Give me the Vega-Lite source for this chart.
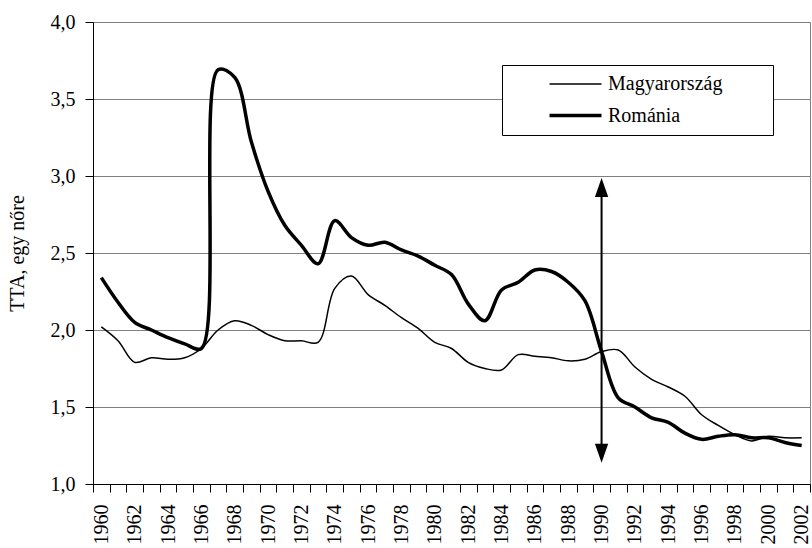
{
  "$schema": "https://vega.github.io/schema/vega-lite/v6.json",
  "width": 717,
  "height": 462,
  "autosize": {"type": "none"},
  "padding": {"left": 93, "top": 22, "right": 2, "bottom": 64},
  "background": "white",
  "config": {
    "font": "Liberation Serif",
    "view": {"stroke": "#808080", "strokeWidth": 1},
    "axis": {"labelColor": "black", "titleColor": "black", "domainColor": "black", "tickColor": "black", "labelFontSize": 20, "titleFontSize": 20, "titleFontWeight": "normal"}
  },
  "resolve": {"axis": {"x": "independent"}},
  "datasets": {
    "tfr": [
      {"year": 1960, "Magyarország": 2.02, "Románia": 2.34},
      {"year": 1961, "Magyarország": 1.93, "Románia": 2.18},
      {"year": 1962, "Magyarország": 1.79, "Románia": 2.05},
      {"year": 1963, "Magyarország": 1.82, "Románia": 2.00},
      {"year": 1964, "Magyarország": 1.81, "Románia": 1.95},
      {"year": 1965, "Magyarország": 1.82, "Románia": 1.91},
      {"year": 1966, "Magyarország": 1.88, "Románia": 1.88},
      {"year": 1967, "Magyarország": 2.00, "Románia": 3.69},
      {"year": 1968, "Magyarország": 2.06, "Románia": 3.64},
      {"year": 1969, "Magyarország": 2.03, "Románia": 3.22},
      {"year": 1970, "Magyarország": 1.97, "Románia": 2.90},
      {"year": 1971, "Magyarország": 1.93, "Románia": 2.68},
      {"year": 1972, "Magyarország": 1.93, "Románia": 2.55},
      {"year": 1973, "Magyarország": 1.92, "Románia": 2.43},
      {"year": 1974, "Magyarország": 2.27, "Románia": 2.71},
      {"year": 1975, "Magyarország": 2.35, "Románia": 2.60},
      {"year": 1976, "Magyarország": 2.23, "Románia": 2.55},
      {"year": 1977, "Magyarország": 2.16, "Románia": 2.57},
      {"year": 1978, "Magyarország": 2.08, "Románia": 2.52},
      {"year": 1979, "Magyarország": 2.01, "Románia": 2.48},
      {"year": 1980, "Magyarország": 1.92, "Románia": 2.42},
      {"year": 1981, "Magyarország": 1.88, "Románia": 2.36},
      {"year": 1982, "Magyarország": 1.79, "Románia": 2.17},
      {"year": 1983, "Magyarország": 1.75, "Románia": 2.06},
      {"year": 1984, "Magyarország": 1.74, "Románia": 2.26},
      {"year": 1985, "Magyarország": 1.84, "Románia": 2.31},
      {"year": 1986, "Magyarország": 1.83, "Románia": 2.39},
      {"year": 1987, "Magyarország": 1.82, "Románia": 2.38},
      {"year": 1988, "Magyarország": 1.80, "Románia": 2.31},
      {"year": 1989, "Magyarország": 1.81, "Románia": 2.19},
      {"year": 1990, "Magyarország": 1.86, "Románia": 1.86},
      {"year": 1991, "Magyarország": 1.87, "Románia": 1.56},
      {"year": 1992, "Magyarország": 1.76, "Románia": 1.50},
      {"year": 1993, "Magyarország": 1.68, "Románia": 1.43},
      {"year": 1994, "Magyarország": 1.63, "Románia": 1.40},
      {"year": 1995, "Magyarország": 1.57, "Románia": 1.33},
      {"year": 1996, "Magyarország": 1.45, "Románia": 1.29},
      {"year": 1997, "Magyarország": 1.38, "Románia": 1.31},
      {"year": 1998, "Magyarország": 1.32, "Románia": 1.32},
      {"year": 1999, "Magyarország": 1.28, "Románia": 1.30},
      {"year": 2000, "Magyarország": 1.31, "Románia": 1.30},
      {"year": 2001, "Magyarország": 1.30, "Románia": 1.27},
      {"year": 2002, "Magyarország": 1.30, "Románia": 1.25}
    ],
    "arrow": [{"year": 1990, "low": 1.2, "high": 2.925}]
  },
  "layer": [
    {
      "data": {"name": "tfr"},
      "transform": [{"fold": ["Magyarország", "Románia"], "as": ["country", "tfr"]}],
      "mark": {"type": "line", "color": "black", "interpolate": "catmull-rom"},
      "encoding": {
        "x": {
          "field": "year", "type": "quantitative",
          "scale": {"domain": [1959.5, 2002.5], "nice": false, "zero": false},
          "axis": {
            "orient": "bottom",
            "title": null,
            "values": [1960,1962,1964,1966,1968,1970,1972,1974,1976,1978,1980,1982,1984,1986,1988,1990,1992,1994,1996,1998,2000,2002],
            "format": "d",
            "labelAngle": 270,
            "labelAlign": "right",
            "labelBaseline": "middle",
            "labelOverlap": false,
            "labelFlush": false,
            "ticks": false,
            "domain": true,
            "labelPadding": 20,
            "grid": false
          }
        },
        "y": {
          "field": "tfr", "type": "quantitative",
          "scale": {"domain": [1, 4], "nice": false, "zero": false},
          "axis": {
            "title": "TTA, egy nőre",
            "titleColor": "black",
            "values": [1, 1.5, 2, 2.5, 3, 3.5, 4],
            "labelExpr": "replace(format(datum.value, '.1f'), '.', ',')",
            "grid": true,
            "gridColor": "#808080",
            "gridOpacity": 1,
            "tickSize": 8,
            "labelPadding": 10,
            "titlePadding": 23
          }
        },
        "strokeWidth": {
          "field": "country", "type": "nominal",
          "scale": {"domain": ["Magyarország", "Románia"], "range": [1.5, 3.5]},
          "legend": {
            "orient": "none",
            "legendX": 409,
            "legendY": 43,
            "title": "WW",
            "titleOrient": "right",
            "titleOpacity": 0,
            "titleFontSize": 20,
            "titlePadding": 2,
            "symbolType": "M-3,0L3,0",
            "symbolStrokeColor": "black",
            "symbolFillColor": "black",
            "symbolSize": 300,
            "symbolOffset": 54,
            "labelOffset": 22,
            "labelFontSize": 20,
            "labelColor": "black",
            "labelLimit": 400,
            "padding": 9,
            "rowPadding": 11,
            "strokeColor": "black",
            "fillColor": "white"
          }
        }
      }
    },
    {
      "data": {"name": "arrow"},
      "mark": {"type": "rule", "color": "black", "strokeWidth": 2},
      "encoding": {
        "x": {
          "field": "year", "type": "quantitative",
          "axis": {
            "orient": "bottom",
            "title": null,
            "values": [1959.5,1960.5,1961.5,1962.5,1963.5,1964.5,1965.5,1966.5,1967.5,1968.5,1969.5,1970.5,1971.5,1972.5,1973.5,1974.5,1975.5,1976.5,1977.5,1978.5,1979.5,1980.5,1981.5,1982.5,1983.5,1984.5,1985.5,1986.5,1987.5,1988.5,1989.5,1990.5,1991.5,1992.5,1993.5,1994.5,1995.5,1996.5,1997.5,1998.5,1999.5,2000.5,2001.5,2002.5],
            "labels": false,
            "ticks": true,
            "tickSize": 8,
            "domain": false,
            "grid": false
          }
        },
        "y": {"field": "low", "type": "quantitative"},
        "y2": {"field": "high"}
      }
    },
    {
      "data": {"name": "arrow"},
      "mark": {"type": "point", "shape": "M0,-1L0.7,1L-0.7,1Z", "filled": true, "size": 361, "color": "black", "opacity": 1},
      "encoding": {
        "x": {"field": "year", "type": "quantitative", "axis": null},
        "y": {"field": "high", "type": "quantitative"}
      }
    },
    {
      "data": {"name": "arrow"},
      "mark": {"type": "point", "shape": "M0,1L0.7,-1L-0.7,-1Z", "filled": true, "size": 361, "color": "black", "opacity": 1},
      "encoding": {
        "x": {"field": "year", "type": "quantitative", "axis": null},
        "y": {"field": "low", "type": "quantitative"}
      }
    }
  ]
}
